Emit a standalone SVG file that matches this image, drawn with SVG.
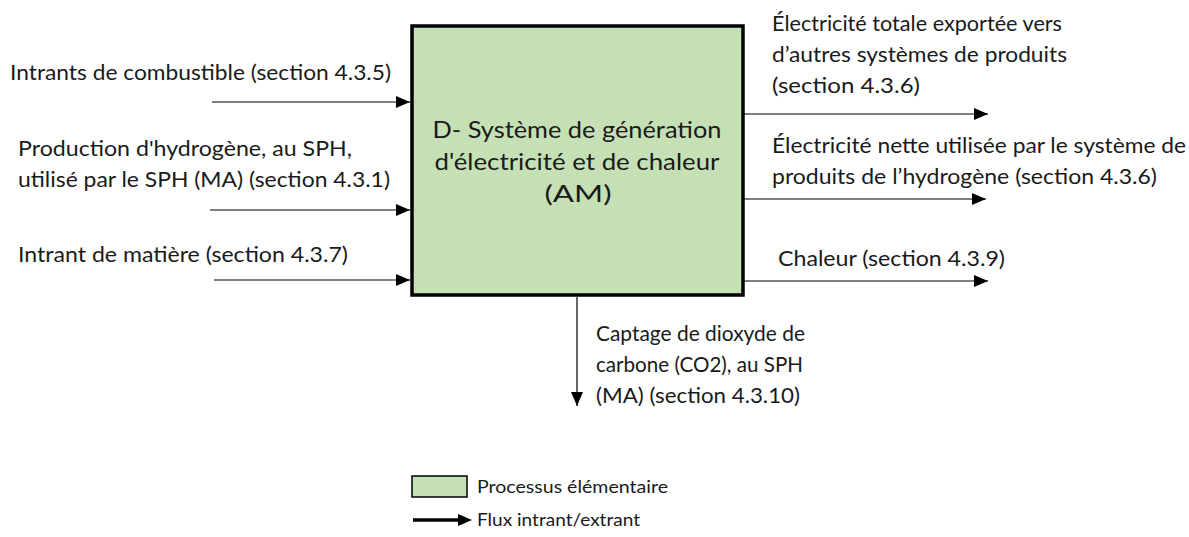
<svg xmlns="http://www.w3.org/2000/svg" width="1189" height="537" viewBox="0 0 1189 537">
<style>
text{font-family:Lato,"Open Sans","Liberation Sans",sans-serif;fill:#1a1a1a}
.lbl{font-size:21px}
.ctr{font-size:23.5px;text-anchor:middle}
.leg{font-size:17.5px}
.flow{stroke:#000;stroke-width:1.2;fill:none}
</style>
<defs>
<marker id="ah" markerWidth="14" markerHeight="12" refX="14" refY="6" orient="auto" markerUnits="userSpaceOnUse">
<path d="M0,0 L14,6 L0,12 Z" fill="#000"/>
</marker>
</defs>
<rect width="1189" height="537" fill="#fff"/>
<g id="process">
<rect x="412" y="26" width="331" height="269" fill="#c5e0b4" stroke="#000" stroke-width="3.5"/>
<text class="ctr" x="577" y="138" textLength="289" lengthAdjust="spacingAndGlyphs">D- Système de génération</text>
<text class="ctr" x="577" y="170" textLength="285" lengthAdjust="spacingAndGlyphs">d'électricité et de chaleur</text>
<text class="ctr" x="578" y="202" textLength="67" lengthAdjust="spacingAndGlyphs">(AM)</text>
</g>
<g id="connectors">
<line class="flow" x1="212" y1="102" x2="410" y2="102" marker-end="url(#ah)"/>
<line class="flow" x1="210" y1="210" x2="410" y2="210" marker-end="url(#ah)"/>
<line class="flow" x1="214" y1="280" x2="410" y2="280" marker-end="url(#ah)"/>
<line class="flow" x1="744" y1="114" x2="988" y2="114" marker-end="url(#ah)"/>
<line class="flow" x1="744" y1="199" x2="986" y2="199" marker-end="url(#ah)"/>
<line class="flow" x1="744" y1="281" x2="988" y2="281" marker-end="url(#ah)"/>
<line class="flow" x1="577" y1="297" x2="577" y2="406" marker-end="url(#ah)"/>
</g>
<g id="labels">
<text class="lbl" x="10" y="80" textLength="381" lengthAdjust="spacingAndGlyphs">Intrants de combustible (section 4.3.5)</text>
<text class="lbl" x="18" y="156" textLength="334" lengthAdjust="spacingAndGlyphs">Production d'hydrogène, au SPH,</text>
<text class="lbl" x="18" y="187" textLength="372" lengthAdjust="spacingAndGlyphs">utilisé par le SPH (MA) (section 4.3.1)</text>
<text class="lbl" x="18" y="262" textLength="330" lengthAdjust="spacingAndGlyphs">Intrant de matière (section 4.3.7)</text>
<text class="lbl" x="772" y="31" textLength="290" lengthAdjust="spacingAndGlyphs">Électricité totale exportée vers</text>
<text class="lbl" x="772" y="62" textLength="295" lengthAdjust="spacingAndGlyphs">d’autres systèmes de produits</text>
<text class="lbl" x="772" y="93" textLength="148" lengthAdjust="spacingAndGlyphs">(section 4.3.6)</text>
<text class="lbl" x="772" y="153" textLength="414" lengthAdjust="spacingAndGlyphs">Électricité nette utilisée par le système de</text>
<text class="lbl" x="772" y="184" textLength="385" lengthAdjust="spacingAndGlyphs">produits de l’hydrogène (section 4.3.6)</text>
<text class="lbl" x="778" y="266" textLength="227" lengthAdjust="spacingAndGlyphs">Chaleur (section 4.3.9)</text>
<text class="lbl" x="596" y="341" textLength="209" lengthAdjust="spacingAndGlyphs">Captage de dioxyde de</text>
<text class="lbl" x="596" y="372" textLength="207" lengthAdjust="spacingAndGlyphs">carbone (CO2), au SPH</text>
<text class="lbl" x="596" y="403" textLength="204" lengthAdjust="spacingAndGlyphs">(MA) (section 4.3.10)</text>
</g>
<g id="legend">
<rect x="412" y="476" width="55" height="21" fill="#c5e0b4" stroke="#000" stroke-width="1.5"/>
<text class="leg" x="477" y="493" textLength="191" lengthAdjust="spacingAndGlyphs">Processus élémentaire</text>
<line x1="413" y1="520" x2="462" y2="520" stroke="#000" stroke-width="3.5"/>
<path d="M458,514 L472,520 L458,526 Z" fill="#000"/>
<text class="leg" x="477" y="526" textLength="163" lengthAdjust="spacingAndGlyphs">Flux intrant/extrant</text>
</g>
</svg>
